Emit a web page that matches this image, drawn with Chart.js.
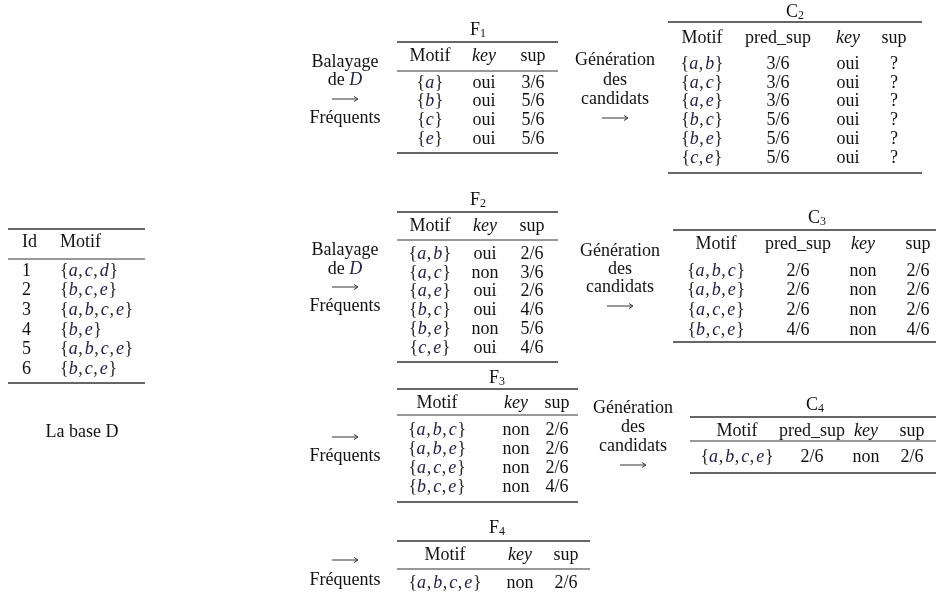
<!DOCTYPE html>
<html>
<head>
<meta charset="utf-8">
<script src="https://cdn.jsdelivr.net/npm/chart.js@4.4.1/dist/chart.umd.min.js"></script>
<style>
html,body{margin:0;padding:0;background:#fff;}
#wrap{width:938px;height:596px;}
</style>
</head>
<body>
<div id="wrap"><canvas id="c" width="938" height="596"></canvas></div>
<script>
// ---------- data ----------
const baseIds = ['1','2','3','4','5','6'];
const baseMotifs = ['a,c,d','b,c,e','a,b,c,e','b,e','a,b,c,e','b,c,e'];

const f1Motifs = ['a','b','c','e'];
const f1Keys = ['oui','oui','oui','oui'];
const f1Sups = ['3/6','5/6','5/6','5/6'];

const c2Motifs = ['a,b','a,c','a,e','b,c','b,e','c,e'];
const c2PredSups = ['3/6','3/6','3/6','5/6','5/6','5/6'];
const c2Keys = ['oui','oui','oui','oui','oui','oui'];
const c2Sups = ['?','?','?','?','?','?'];

const f2Motifs = ['a,b','a,c','a,e','b,c','b,e','c,e'];
const f2Keys = ['oui','non','oui','oui','non','oui'];
const f2Sups = ['2/6','3/6','2/6','4/6','5/6','4/6'];

const c3Motifs = ['a,b,c','a,b,e','a,c,e','b,c,e'];
const c3PredSups = ['2/6','2/6','2/6','4/6'];
const c3Keys = ['non','non','non','non'];
const c3Sups = ['2/6','2/6','2/6','4/6'];

const f3Motifs = ['a,b,c','a,b,e','a,c,e','b,c,e'];
const f3Keys = ['non','non','non','non'];
const f3Sups = ['2/6','2/6','2/6','4/6'];

const c4Motifs = ['a,b,c,e'];
const c4PredSups = ['2/6'];
const c4Keys = ['non'];
const c4Sups = ['2/6'];

const f4Motifs = ['a,b,c,e'];
const f4Keys = ['non'];
const f4Sups = ['2/6'];

const fHeaders = ['Motif','key','sup'];
const cHeaders = ['Motif','pred_sup','key','sup'];
const baseHeaders = ['Id','Motif'];

// ---------- layout (positions / styles) ----------
const SERIF = '"Liberation Serif","Times New Roman",serif';
const FS = 18;
const TEXT = '#111';
const MATH = '#22224a';
const RULE = '#333';

const tables = [
  {name:'F',sub:'1',headers:fHeaders,cols:[f1Motifs,f1Keys,f1Sups],x0:397,x1:558,tx:478,ty:30,top:42,head:56,mid:71,r0:83,step:18.7,bottom:153,cx:[430,484,533]},
  {name:'C',sub:'2',headers:cHeaders,cols:[c2Motifs,c2PredSups,c2Keys,c2Sups],x0:668,x1:922,tx:795,ty:12,top:22,head:38,mid:null,r0:64,step:18.8,bottom:173,cx:[702,778,848,894]},
  {name:'F',sub:'2',headers:fHeaders,cols:[f2Motifs,f2Keys,f2Sups],x0:397,x1:558,tx:478,ty:200,top:212,head:226,mid:240,r0:254,step:18.8,bottom:362,cx:[430,485,532]},
  {name:'C',sub:'3',headers:cHeaders,cols:[c3Motifs,c3PredSups,c3Keys,c3Sups],x0:673,x1:936,tx:817,ty:218,top:230,head:244,mid:null,r0:271,step:19.6,bottom:342,cx:[716,798,863,918]},
  {name:'F',sub:'3',headers:fHeaders,cols:[f3Motifs,f3Keys,f3Sups],x0:397,x1:578,tx:497,ty:378,top:389,head:403,mid:415,r0:430,step:19.1,bottom:502,cx:[437,516,557]},
  {name:'C',sub:'4',headers:cHeaders,cols:[c4Motifs,c4PredSups,c4Keys,c4Sups],x0:690,x1:936,tx:815,ty:405,top:417,head:431,mid:441,r0:457,step:19,bottom:473,cx:[737,812,866,912]},
  {name:'F',sub:'4',headers:fHeaders,cols:[f4Motifs,f4Keys,f4Sups],x0:397,x1:590,tx:497,ty:528,top:541,head:555,mid:569,r0:583,step:19,bottom:null,cx:[445,520,566]}
];

const labels = [
  {cx:345,lines:['Balayage','de D','ARROW','Fréquents'],ys:[62,80,99,118]},
  {cx:345,lines:['Balayage','de D','ARROW','Fréquents'],ys:[250,269,287,306]},
  {cx:345,lines:['ARROW','Fréquents'],ys:[437,456]},
  {cx:345,lines:['ARROW','Fréquents'],ys:[560,580]},
  {cx:615,lines:['Génération','des','candidats','ARROW'],ys:[60,80,99,118]},
  {cx:620,lines:['Génération','des','candidats','ARROW'],ys:[251,269,287,306]},
  {cx:633,lines:['Génération','des','candidats','ARROW'],ys:[408,427,446,465]}
];

const baseTable = {x0:8,x1:145,top:229,head:242,mid:259,r0:271,step:19.6,bottom:383,idX:22,motifX:60,captionX:82,captionY:432};

// ---------- drawing helpers ----------
function font(style, size){ return (style||'') + ' ' + size + 'px ' + SERIF; }

function setParts(s){
  const letters = s.split(',');
  const parts = [{t:'{',it:false}];
  letters.forEach((l,i)=>{
    parts.push({t:l,it:true});
    if(i<letters.length-1) parts.push({t:',',it:false,after:2});
  });
  parts.push({t:'}',it:false});
  return parts;
}
function setWidth(ctx, parts){
  let w=0;
  parts.forEach(p=>{ctx.font=font(p.it?'italic':'',FS); w+=ctx.measureText(p.t).width+(p.after||0)+(p.it?0.6:0);});
  return w;
}
function drawSet(ctx, s, x, y, align){
  const parts = setParts(s);
  const w = setWidth(ctx, parts);
  let cur = align==='left' ? x : x - w/2;
  ctx.textAlign='left'; ctx.textBaseline='middle';
  parts.forEach(p=>{
    ctx.font=font(p.it?'italic':'',FS);
    ctx.fillStyle = p.it ? MATH : '#2a2a2a';
    ctx.fillText(p.t, cur, y);
    cur += ctx.measureText(p.t).width + (p.after||0) + (p.it?0.6:0);
  });
}
function drawText(ctx, t, x, y, italic, align){
  ctx.font=font(italic?'italic':'',FS);
  ctx.fillStyle=TEXT; ctx.textAlign=align||'center'; ctx.textBaseline='middle';
  ctx.fillText(t,x,y);
}
function drawArrow(ctx, cx, y){
  ctx.save();
  ctx.strokeStyle='#333'; ctx.lineWidth=1;
  ctx.beginPath(); ctx.moveTo(cx-13,y); ctx.lineTo(cx+12,y); ctx.stroke();
  ctx.beginPath(); ctx.moveTo(cx+9,y-2.5); ctx.lineTo(cx+13,y); ctx.lineTo(cx+9,y+2.5); ctx.stroke();
  ctx.restore();
}
function drawDeD(ctx, cx, y){
  ctx.textBaseline='middle';
  ctx.font=font('',FS);
  const w1 = ctx.measureText('de ').width;
  ctx.font=font('italic',FS);
  const w2 = ctx.measureText('D').width;
  let x = cx-(w1+w2)/2;
  ctx.textAlign='left';
  ctx.font=font('',FS); ctx.fillStyle=TEXT; ctx.fillText('de ',x,y);
  ctx.font=font('italic',FS); ctx.fillStyle=MATH; ctx.fillText('D',x+w1,y);
}
function hline(ctx, x0, x1, y, w){
  ctx.save(); ctx.strokeStyle=RULE; ctx.lineWidth=w;
  ctx.beginPath(); ctx.moveTo(x0,y); ctx.lineTo(x1,y); ctx.stroke(); ctx.restore();
}
function drawTitle(ctx, name, sub, cx, y){
  ctx.textBaseline='middle'; ctx.textAlign='left';
  ctx.font=font('',FS); const w1=ctx.measureText(name).width;
  ctx.font=font('',12); const w2=ctx.measureText(sub).width;
  const x=cx-(w1+w2)/2;
  ctx.fillStyle=TEXT;
  ctx.font=font('',FS); ctx.fillText(name,x,y);
  ctx.font=font('',12); ctx.fillText(sub,x+w1,y+4);
}

const tablePlugin = {
  id:'tables',
  beforeDraw(chart){
    const ctx=chart.ctx; ctx.save(); ctx.fillStyle='#fff'; ctx.fillRect(0,0,chart.width,chart.height); ctx.restore();
  },
  afterDraw(chart){
    const ctx=chart.ctx;
    const X=v=>chart.scales.x.getPixelForValue(v);
    const Y=v=>chart.scales.y.getPixelForValue(v);
    ctx.save();
    // base table
    const b=baseTable;
    hline(ctx,X(b.x0),X(b.x1),Y(b.top),1.6);
    drawText(ctx,baseHeaders[0],X(b.idX),Y(b.head),false,'left');
    drawText(ctx,baseHeaders[1],X(b.motifX),Y(b.head),false,'left');
    hline(ctx,X(b.x0),X(b.x1),Y(b.mid),1);
    baseIds.forEach((id,i)=>{
      const y=Y(b.r0+i*b.step);
      drawText(ctx,id,X(b.idX),y,false,'left');
      drawSet(ctx,baseMotifs[i],X(b.motifX),y,'left');
    });
    hline(ctx,X(b.x0),X(b.x1),Y(b.bottom),1.6);
    drawText(ctx,'La base D',X(b.captionX),Y(b.captionY),false,'center');

    // other tables
    tables.forEach(t=>{
      drawTitle(ctx,t.name,t.sub,X(t.tx),Y(t.ty));
      hline(ctx,X(t.x0),X(t.x1),Y(t.top),1.6);
      t.headers.forEach((h,j)=>drawText(ctx,h,X(t.cx[j]),Y(t.head),h==='key','center'));
      if(t.mid!==null) hline(ctx,X(t.x0),X(t.x1),Y(t.mid),1);
      t.cols[0].forEach((m,i)=>{
        const y=Y(t.r0+i*t.step);
        drawSet(ctx,m,X(t.cx[0]),y,'center');
        for(let j=1;j<t.cols.length;j++) drawText(ctx,t.cols[j][i],X(t.cx[j]),y,false,'center');
      });
      if(t.bottom!==null) hline(ctx,X(t.x0),X(t.x1),Y(t.bottom),1.6);
    });

    // side labels
    labels.forEach(l=>{
      l.lines.forEach((s,i)=>{
        const y=Y(l.ys[i]);
        if(s==='ARROW') drawArrow(ctx,X(l.cx),y);
        else if(s==='de D') drawDeD(ctx,X(l.cx),y);
        else drawText(ctx,s,X(l.cx),y,false,'center');
      });
    });
    ctx.restore();
  }
};

new Chart(document.getElementById('c'),{
  type:'scatter',
  data:{datasets:[{data:[],pointRadius:0}]},
  options:{
    responsive:false,
    animation:false,
    events:[],
    layout:{padding:0},
    plugins:{legend:{display:false},tooltip:{enabled:false},title:{display:false}},
    scales:{
      x:{type:'linear',min:0,max:938,display:false},
      y:{type:'linear',min:0,max:596,reverse:true,display:false}
    }
  },
  plugins:[tablePlugin]
});
</script>
</body>
</html>
